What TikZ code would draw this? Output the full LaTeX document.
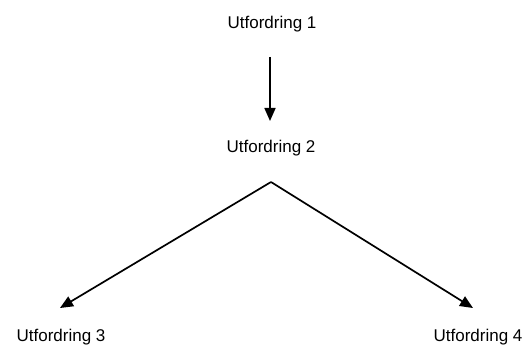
\documentclass[tikz,border=0pt]{standalone}
\usepackage{fontspec}
\setmainfont{Liberation Sans}
\usetikzlibrary{arrows.meta,calc}
\begin{document}
\begin{tikzpicture}[x=1pt,y=1pt,
  lbl/.style={inner sep=0pt,font=\fontsize{17}{20}\selectfont},
  conn/.style={line width=1.7pt,-{Triangle[length=13pt,width=11pt]}}]
\useasboundingbox (0,0) rectangle (530,345);
\node[lbl] (u1) at (272,321) {Utfordring 1};
\node[lbl] (u2) at (271,197) {Utfordring 2};
\node[lbl] (u3) at (61,8) {Utfordring 3};
\node[lbl] (u4) at (478,8) {Utfordring 4};
\coordinate (apex) at ($(u2)+(0,-34)$);
\draw[conn] ($(u1)+(-2,-33)$) -- ($(u2)+(-1,27)$);
\draw[conn] (apex) -- ($(u3)+(-1,29)$);
\draw[conn] (apex) -- ($(u4)+(-5,29)$);
\end{tikzpicture}
\end{document}
